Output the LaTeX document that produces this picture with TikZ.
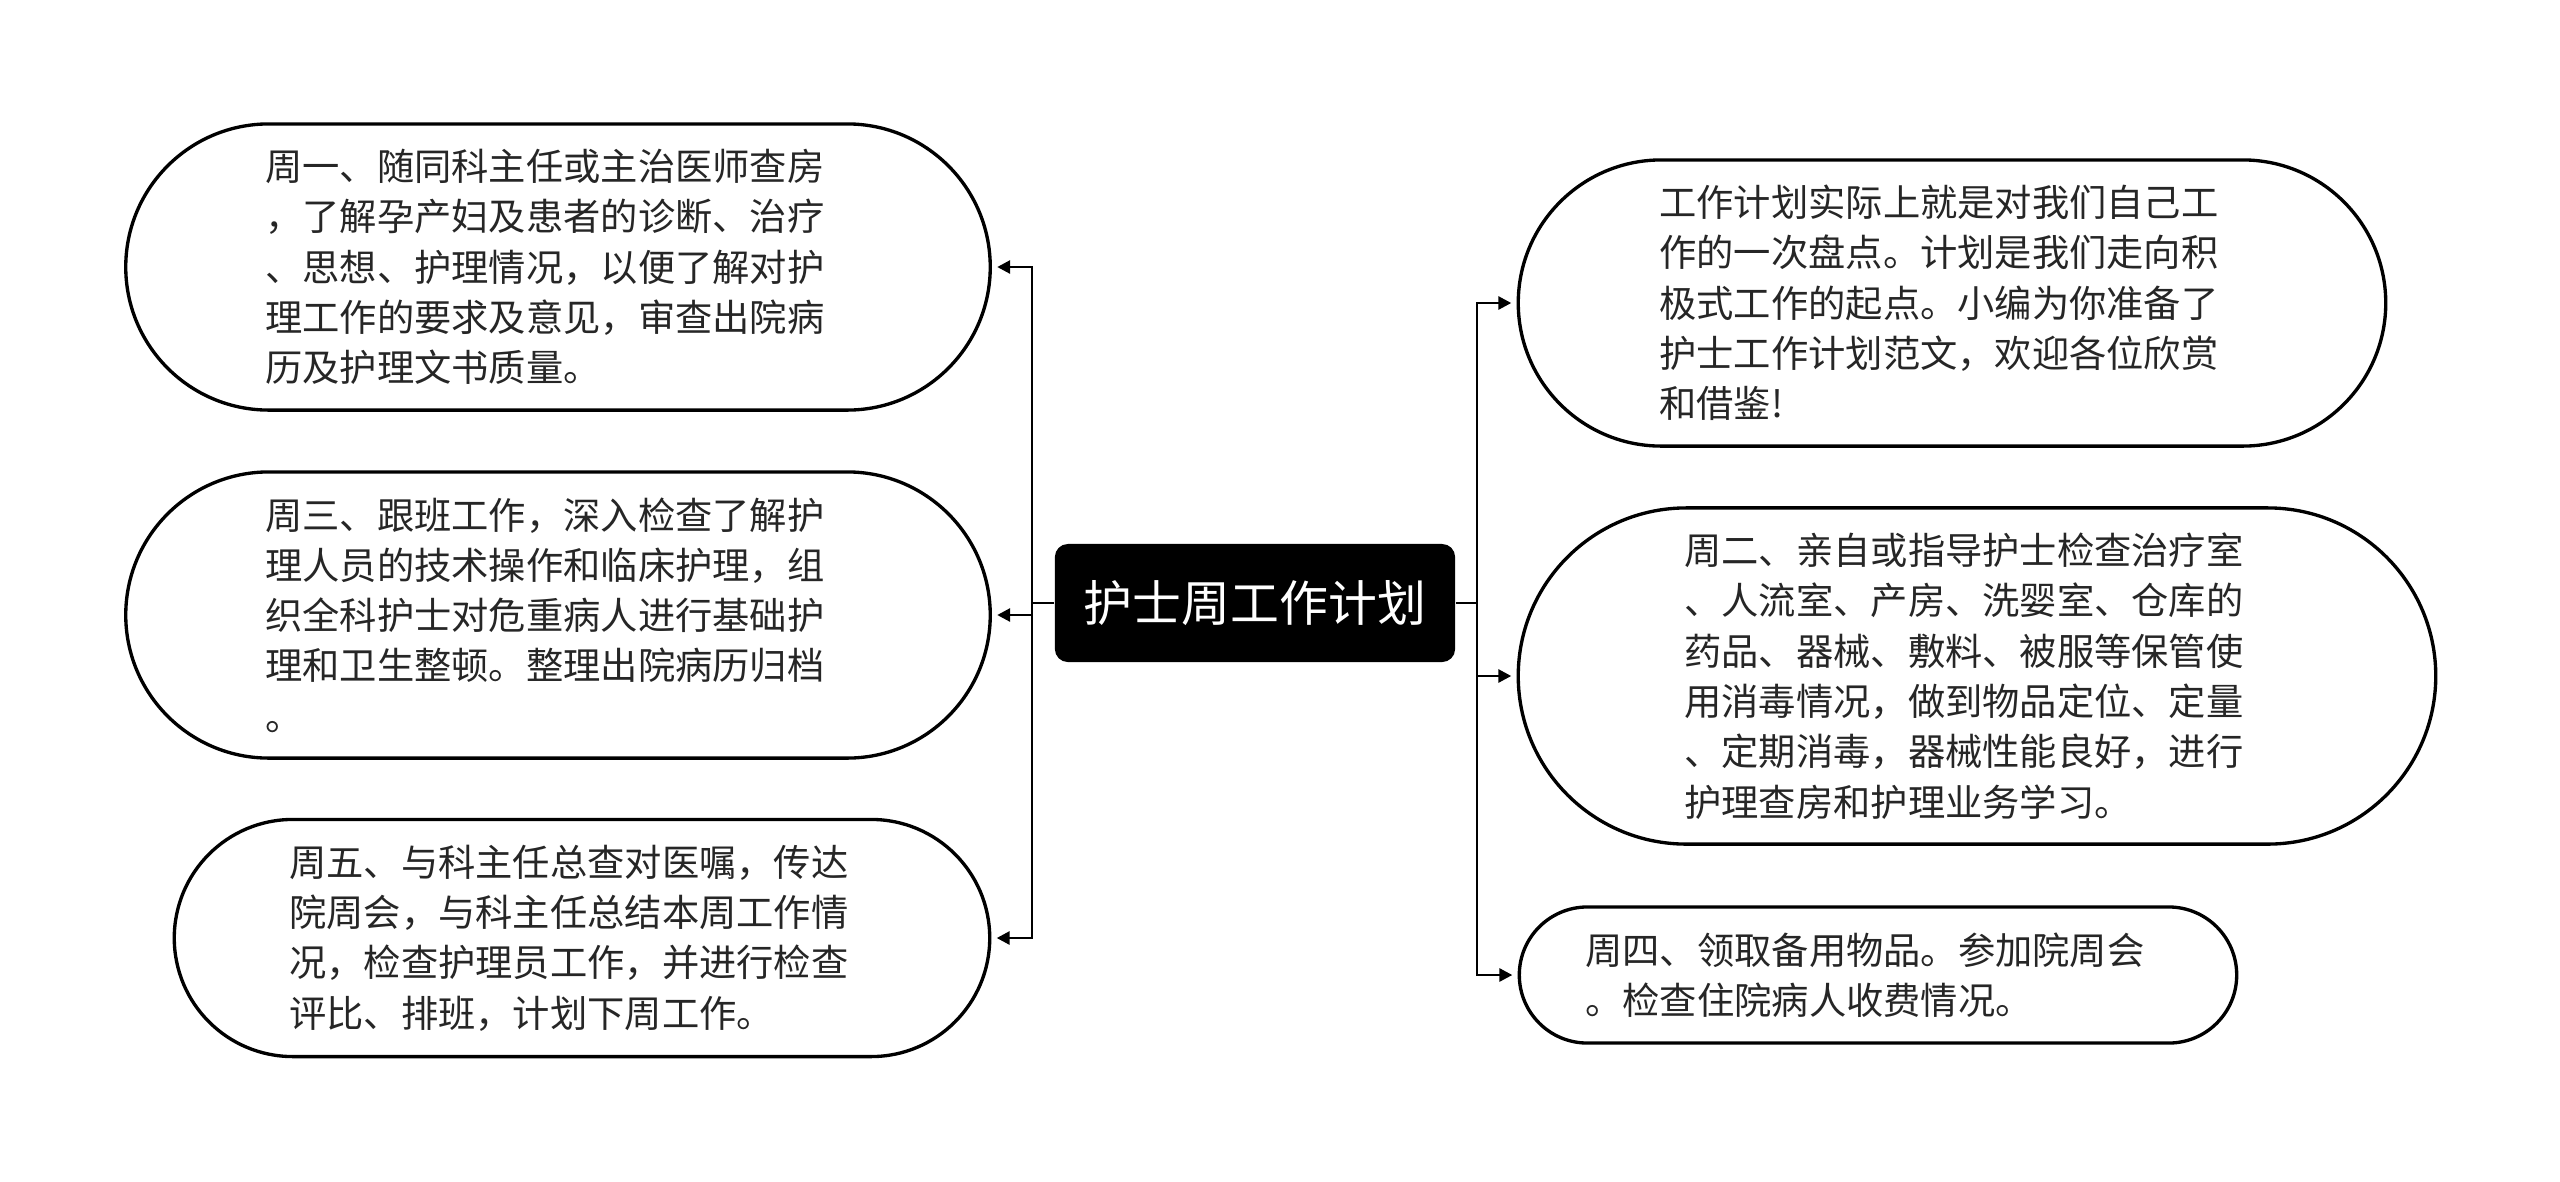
\documentclass[tikz,border=0pt]{standalone}
\usepackage{fontspec}
\newfontfamily\cjk{Noto Sans CJK SC}
\usetikzlibrary{arrows.meta,shapes.misc}

\begin{document}
\begin{tikzpicture}[
    x=0.01cm, y=-0.01cm,
    topic/.style={rectangle, rounded corners=0.13cm, fill=black, text=white,
                  minimum width=4cm, minimum height=1.18cm, inner sep=0pt,
                  font=\cjk\fontsize{13.9pt}{16pt}\selectfont},
    item/.style={rounded rectangle, draw=black, line width=0.95pt, fill=white,
                 align=left, text width=5.85cm, inner sep=0pt, text=black!85,
                 font=\cjk\fontsize{10.6pt}{14.3pt}\selectfont},
    arrow/.style={-{Triangle[length=0.13cm, width=0.13cm]}, line width=0.8pt, shorten >=1.5pt},
    link/.style={line width=0.8pt}
]
    \path[fill=white, use as bounding box] (0,0) rectangle (2560,1181);

    % centre topic
    \node[topic] (hub) at (1255,603) {护士周工作计划};

    % left side
    \node[item, minimum width=8.64cm, minimum height=2.86cm] (mon) at (558,267)
        {周一、随同科主任或主治医师查房\\，了解孕产妇及患者的诊断、治疗\\、思想、护理情况，以便了解对护\\理工作的要求及意见，审查出院病\\历及护理文书质量。};
    \node[item, minimum width=8.64cm, minimum height=2.86cm] (wed) at (558,615)
        {周三、跟班工作，深入检查了解护\\理人员的技术操作和临床护理，组\\织全科护士对危重病人进行基础护\\理和卫生整顿。整理出院病历归档\\。};
    \node[item, minimum width=8.15cm, minimum height=2.37cm] (fri) at (582,938)
        {周五、与科主任总查对医嘱，传达\\院周会，与科主任总结本周工作情\\况，检查护理员工作，并进行检查\\评比、排班，计划下周工作。};

    % right side
    \node[item, minimum width=8.67cm, minimum height=2.86cm] (intro) at (1952,303)
        {工作计划实际上就是对我们自己工\\作的一次盘点。计划是我们走向积\\极式工作的起点。小编为你准备了\\护士工作计划范文，欢迎各位欣赏\\和借鉴!};
    \node[item, minimum width=9.17cm, minimum height=3.36cm] (tue) at (1977,676)
        {周二、亲自或指导护士检查治疗室\\、人流室、产房、洗婴室、仓库的\\药品、器械、敷料、被服等保管使\\用消毒情况，做到物品定位、定量\\、定期消毒，器械性能良好，进行\\护理查房和护理业务学习。};
    \node[item, minimum width=7.17cm, minimum height=1.36cm] (thu) at (1878,975)
        {周四、领取备用物品。参加院周会\\。检查住院病人收费情况。};

    % connectors
    \coordinate (ltrunk) at (1032,603);
    \coordinate (rtrunk) at (1477,603);
    \draw[link] (hub.west) -- (ltrunk);
    \draw[link] (hub.east) -- (rtrunk);
    \draw[arrow] (ltrunk) |- (mon.east);
    \draw[arrow] (ltrunk) |- (wed.east);
    \draw[arrow] (ltrunk) |- (fri.east);
    \draw[arrow] (rtrunk) |- (intro.west);
    \draw[arrow] (rtrunk) |- (tue.west);
    \draw[arrow] (rtrunk) |- (thu.west);
\end{tikzpicture}
\end{document}
